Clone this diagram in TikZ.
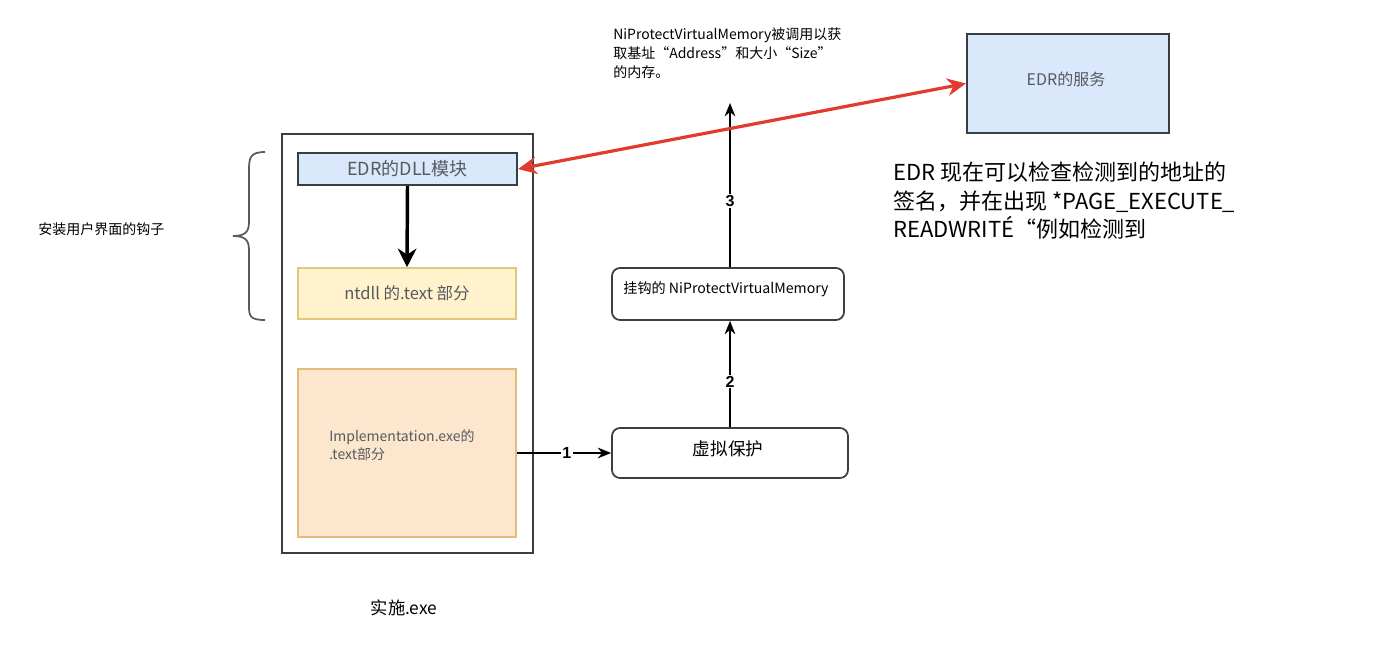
\documentclass[tikz,border=0pt]{standalone}
\usepackage{fontspec}
\setmainfont{Noto Sans CJK SC}
\newfontfamily\numfont{Liberation Sans}
\usetikzlibrary{arrows.meta}
\definecolor{blfill}{HTML}{DAE8FC}
\definecolor{dkline}{HTML}{3A3D42}
\definecolor{yfill}{HTML}{FFF2CC}
\definecolor{yline}{HTML}{E0C878}
\definecolor{ofill}{HTML}{FCE6CE}
\definecolor{oline}{HTML}{E2BC78}
\definecolor{txtgray}{HTML}{555A60}
\definecolor{edrred}{HTML}{E23B2E}
\tikzset{
  bluebox/.style={draw=dkline,line width=1.6pt,fill=blfill,inner sep=0pt},
  yelbox/.style={draw=yline,line width=1.2pt,fill=yfill,inner sep=0pt},
  orabox/.style={draw=oline,line width=1.2pt,fill=ofill,inner sep=0pt},
  roundbox/.style={draw=dkline,line width=1.3pt,rounded corners=6pt,fill=white,inner sep=0pt},
  flow/.style={line width=1.3pt,-{Stealth[length=10pt,width=8pt]}},
  numlbl/.style={fill=white,inner sep=1pt,font=\numfont\bfseries\fontsize{12}{14}\selectfont},
  graytext/.style={text=txtgray,font=\fontsize{12}{14}\selectfont}
}
\begin{document}
\begin{tikzpicture}[x=0.75pt,y=-0.75pt]
\useasboundingbox (0,0) rectangle (1400,647);
% outer exe box
\node[draw=dkline,line width=1.5pt,minimum width=251*0.75pt,minimum height=419*0.75pt,inner sep=0pt] (exe) at (407.5,343.5) {};
% EDR DLL
\node[bluebox,minimum width=219*0.75pt,minimum height=32*0.75pt,graytext,font=\fontsize{13.5}{15}\selectfont] (dll) at (407.5,169) {EDR的DLL模块};
% ntdll
\node[yelbox,minimum width=218*0.75pt,minimum height=51*0.75pt,graytext,font=\fontsize{12.4}{14}\selectfont] (ntdll) at (407,293.5) {ntdll 的.text 部分};
% implementation
\node[orabox,minimum width=218*0.75pt,minimum height=168*0.75pt] (impl) at (407,453) {};
\node[graytext,anchor=north west,align=left,inner sep=0pt,font=\fontsize{10.5}{13.5}\selectfont] (impltxt) at (329,429) {Implementation.exe的\\.text部分};
% virtual protect
\node[roundbox,minimum width=236*0.75pt,minimum height=50*0.75pt] (vp) at (730,453) {};
\node[font=\fontsize{13.2}{15}\selectfont,inner sep=0pt] (vptxt) at (728,449) {虚拟保护};
% hooked
\node[roundbox,minimum width=232*0.75pt,minimum height=52*0.75pt] (hook) at (728,294) {};
\node[font=\fontsize{10.6}{13}\selectfont,inner sep=0pt] (hooktxt) at (726,289) {挂钩的 NiProtectVirtualMemory};
% top text
\coordinate (top) at (730,103);
\node[anchor=north west,align=left,inner sep=0pt,font=\fontsize{10.5}{14.6}\selectfont] (toptxt) at (613,27) {NiProtectVirtualMemory被调用以获\\取基址“Address”和大小“Size”\\的内存。};
% EDR service
\node[bluebox,minimum width=202*0.75pt,minimum height=99*0.75pt] (svc) at (1068,83.5) {};
\node[graytext,inner sep=0pt] (svctxt) at (1066,79) {EDR的服务};
% right text
\node[anchor=north west,align=left,inner sep=0pt,font=\fontsize{16.5}{21.2}\selectfont] (rtxt) at (893,162) {EDR 现在可以检查检测到的地址的\\签名，并在出现 *PAGE\_EXECUTE\_\\READWRITÉ“例如检测到};
% left text
\node[anchor=west,inner sep=0pt,font=\fontsize{10.5}{13}\selectfont] (ltxt) at (38,229) {安装用户界面的钩子};
% bottom label
\node[inner sep=0pt,font=\fontsize{13}{15}\selectfont] (exelbl) at (404,608) {实施.exe};
% brace
\draw[dkline!85,line width=1.3pt] (265,152) .. controls (250,152) and (249,158) .. (249,170) -- (249,222) .. controls (249,232) and (245,236) .. (233,236) .. controls (245,236) and (249,240) .. (249,250) -- (249,306) .. controls (249,316) and (250,320) .. (265,320);
% arrows
\draw[line width=2.6pt,-{Stealth[length=14pt,width=14pt]}] (dll.south) -- (ntdll.north);
\draw[flow] (impl.east |- vp.west) -- node[numlbl,pos=0.53]{1} (vp.west);
\draw[flow] (vp.north -| 730,0) -- node[numlbl,pos=0.43]{2} (hook.south -| 730,0);
\draw[flow] (hook.north -| 730,0) -- node[numlbl,pos=0.4]{3} (top);
\draw[edrred,line width=2.4pt,{Stealth[length=14pt,width=13pt]}-{Stealth[length=14pt,width=13pt]}] (dll.east) -- (svc.west);
\end{tikzpicture}
\end{document}
